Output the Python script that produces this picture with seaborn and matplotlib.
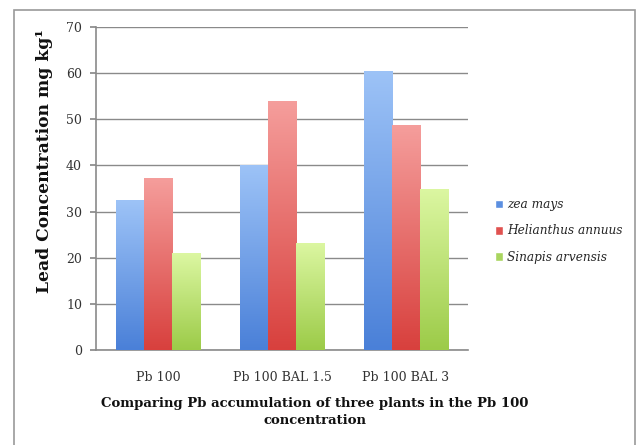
import numpy as np
import pandas as pd
import matplotlib
matplotlib.use("Agg")
import matplotlib.pyplot as plt
from matplotlib.colors import LinearSegmentedColormap
from matplotlib.patches import Rectangle
import seaborn as sns

categories = ["Pb 100", "Pb 100 BAL 1.5", "Pb 100 BAL 3"]
series = ["zea mays", "Helianthus annuus", "Sinapis arvensis"]
zea_mays = [32.5, 40.1, 60.5]
helianthus = [37.3, 54.0, 48.8]
sinapis = [21.0, 23.2, 34.9]
yticks = [0, 10, 20, 30, 40, 50, 60, 70]

df = pd.DataFrame({
    "cat": categories * 3,
    "series": [series[0]] * 3 + [series[1]] * 3 + [series[2]] * 3,
    "val": zea_mays + helianthus + sinapis,
})

mid_colors = ["#6f9ee6", "#e86a68", "#bde27a"]
grad = {
    0: ("#9dc3f7", "#4a80d8"),
    1: ("#f59e9c", "#d8403d"),
    2: ("#dcf7a2", "#9ccb48"),
}

sns.set_theme(style="white")
plt.rcParams["font.family"] = ["DejaVu Serif"]

fig = plt.figure(figsize=(6.4, 4.45), dpi=100)
ax = fig.add_axes([96/640, 1-350/445, (468-96)/640, (350-27)/445])

sns.barplot(data=df, x="cat", y="val", hue="series", palette=mid_colors,
            width=0.68, ax=ax, zorder=3, legend=True)

ax.set_ylim(0, 70)
ax.set_yticks(yticks)
ax.set_xlim(-0.5, 2.5)
ax.yaxis.grid(True, color="#8a8a8a", lw=1.0, zorder=0)
ax.set_axisbelow(True)

# gradient fill of the bars
for i, container in enumerate(ax.containers):
    cmap = LinearSegmentedColormap.from_list("g", [grad[i][1], grad[i][0]])
    for bar in container:
        bar.set_alpha(0)
        x0, y0 = bar.get_x(), bar.get_y()
        w, h = bar.get_width(), bar.get_height()
        g = np.linspace(0, 1, 256).reshape(-1, 1)
        im = ax.imshow(g, cmap=cmap, origin="lower", aspect="auto",
                       extent=[x0, x0 + w, y0, y0 + h], zorder=3)
        im.set_clip_path(bar)
ax.set_xlim(-0.5, 2.5)
ax.set_ylim(0, 70)

for s in ["top", "right"]:
    ax.spines[s].set_visible(False)
for s in ["left", "bottom"]:
    ax.spines[s].set_color("#8a8a8a")
    ax.spines[s].set_linewidth(1.2)

ax.tick_params(axis="y", which="major", length=4, color="#8a8a8a", left=True,
               labelsize=9, pad=6, labelcolor="#333333")
ax.tick_params(axis="x", length=0, labelsize=9, pad=15, labelcolor="#333333")

ax.set_ylabel("")
ax.set_xlabel("")
fig.text(45/640, 1-161/445, "Lead Concentration mg kg¹", rotation=90,
         fontsize=12.3, fontweight="bold", color="#111111", ha="center", va="center")
fig.text(315/640, 1-412/445,
         "Comparing Pb accumulation of three plants in the Pb 100\nconcentration",
         fontsize=9.5, fontweight="bold", color="#111111", ha="center", va="center",
         multialignment="center", linespacing=1.35)

handles, labels = ax.get_legend_handles_labels()
for hnd, c in zip(handles, ["#5b8fe0", "#e05250", "#a9d55f"]):
    hnd.set_alpha(1)
    hnd.set_facecolor(c)
ax.legend(handles, labels, loc="center left", bbox_to_anchor=(484/640, 1-231/445),
          bbox_transform=fig.transFigure, frameon=False, prop={"style": "italic", "size": 8.7},
          handlelength=0.7, handleheight=0.7, handletextpad=0.3, labelspacing=1.1)

frame = Rectangle((14/640, -0.05), (635-14)/640, 1.05 - 10/445, transform=fig.transFigure,
                  fill=False, edgecolor="#9a9a9a", lw=1.2, clip_on=False)
fig.add_artist(frame)

fig.savefig("out.png", dpi=100)
